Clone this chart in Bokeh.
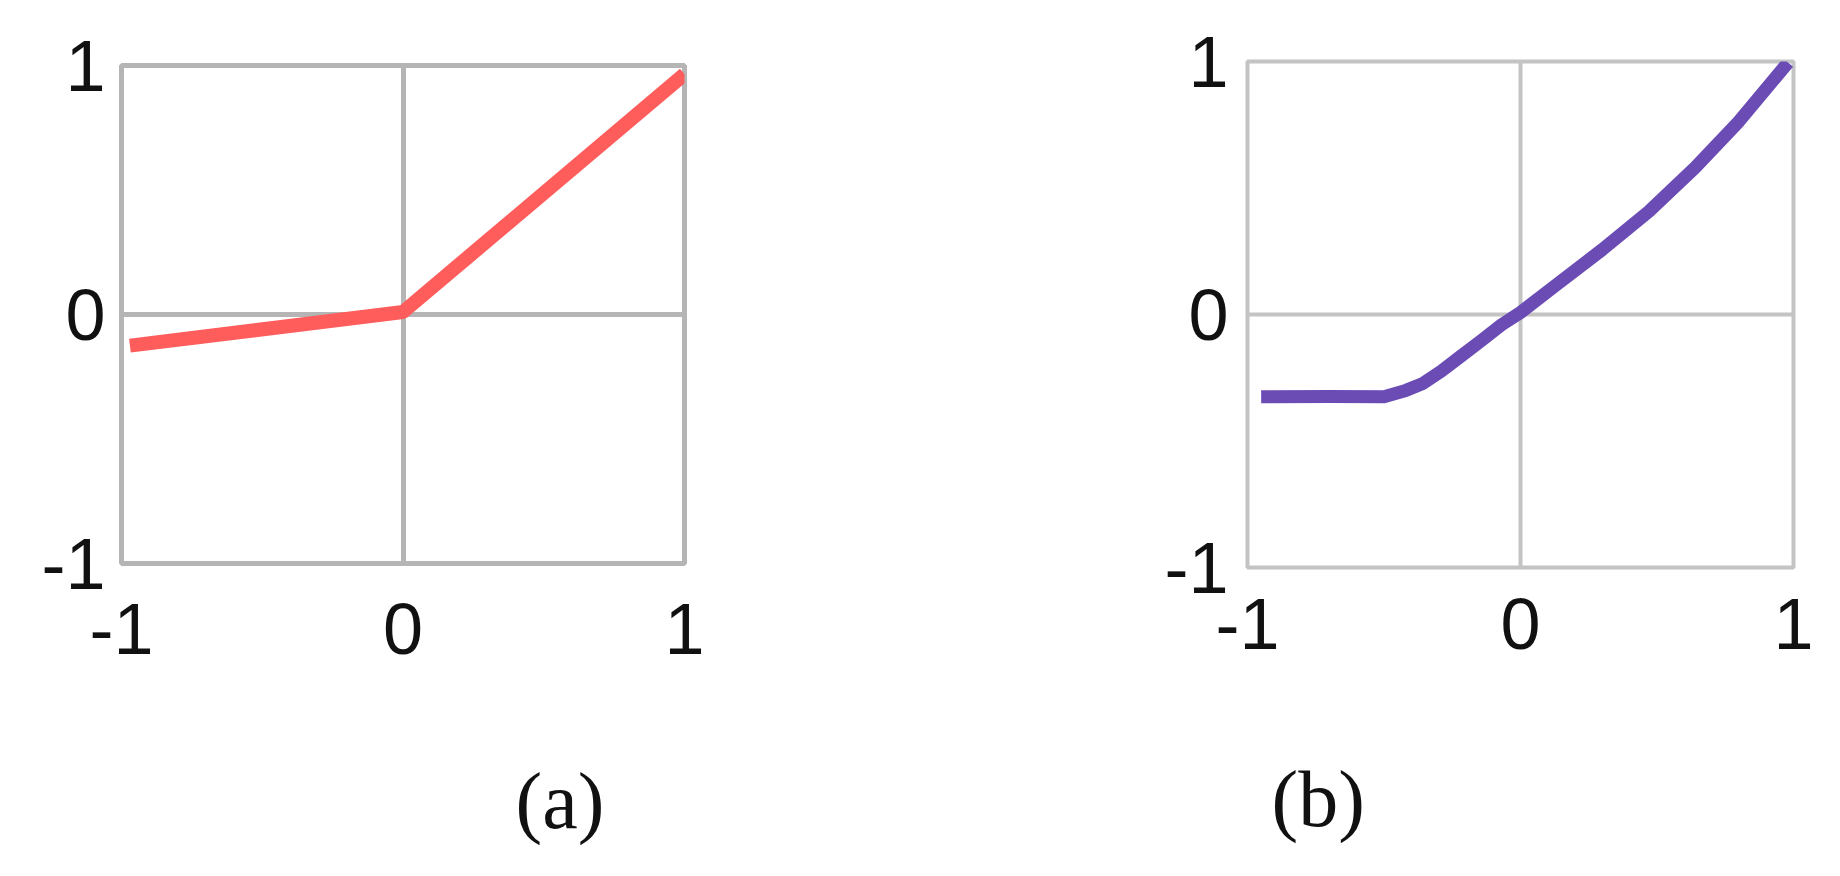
from bokeh.plotting import figure
from bokeh.layouts import row
from bokeh.models import FixedTicker, Range1d, Title
from bokeh.embed import file_html
from bokeh.resources import INLINE

# ---- data ----
ticks = [-1, 0, 1]
tick_labels = {-1: "-1", 0: "0", 1: "1"}

# (a) leaky-ReLU-like piecewise line
a_x = [-0.97, 0.0, 1.0]
a_y = [-0.125, 0.01, 0.965]

# (b) ELU-like smooth curve
b_x = [-0.95, -0.70, -0.50, -0.42, -0.36, -0.29, -0.22, -0.14, -0.07, 0.0,
       0.13, 0.30, 0.47, 0.64, 0.80, 0.98]
b_y = [-0.325, -0.324, -0.325, -0.30, -0.274, -0.224, -0.166, -0.10, -0.041, 0.008,
       0.116, 0.257, 0.407, 0.581, 0.763, 0.996]

captions = ["(a)", "(b)"]

TICK_FONT = "Liberation Sans"
CAP_FONT = "Liberation Serif"


def make_panel(xs, ys, color, lw, fw, fh, left, right, top, bottom, grid_color, grid_w,
               x_standoff, y_standoff, spacer, cap, cap_offset):
    p = figure(frame_width=fw, frame_height=fh, output_backend="svg", toolbar_location=None,
               title=None, x_range=Range1d(-1, 1), y_range=Range1d(-1, 1),
               min_border_left=left, min_border_right=right,
               min_border_top=top, min_border_bottom=bottom,
               background_fill_color="white", border_fill_color="white")
    for ax in (p.xaxis[0], p.yaxis[0]):
        ax.ticker = FixedTicker(ticks=ticks)
        ax.major_label_overrides = tick_labels
        ax.axis_line_color = None
        ax.major_tick_line_color = None
        ax.minor_tick_line_color = None
        ax.major_tick_in = 0
        ax.major_tick_out = 0
        ax.major_label_text_font = TICK_FONT
        ax.major_label_text_font_size = "72px"
        ax.major_label_text_color = "#111111"
    p.xaxis.major_label_standoff = x_standoff
    p.yaxis.major_label_standoff = y_standoff
    # blank axis label used only as vertical spacing before the caption
    p.xaxis.axis_label = " "
    p.xaxis.axis_label_text_font_size = "10px"
    p.xaxis.axis_label_standoff = spacer
    p.grid.grid_line_color = grid_color
    p.grid.grid_line_width = grid_w
    p.grid.grid_line_alpha = 1.0
    p.outline_line_color = grid_color
    p.outline_line_width = grid_w
    p.outline_line_alpha = 1.0
    p.line(xs, ys, line_color=color, line_width=lw, line_join="round")
    p.add_layout(Title(text=cap, align="left", offset=cap_offset, standoff=2,
                       text_font=CAP_FONT, text_font_size="80px", text_font_style="normal",
                       text_color="#111111"), "below")
    return p


pa = make_panel(a_x, a_y, "#FF5C5C", 14, 563, 498, 121, 236, 65, 300, "#b5b5b5", 5,
                40, 16, 83, captions[0], 394)
pb = make_panel(b_x, b_y, "#6A4CB4", 13, 546, 506, 327, 41, 65, 300, "#c4c4c4", 4,
                31, 19, 86, captions[1], 24)
pb.margin = (-4, 0, 0, 0)

layout = row(pa, pb)
open("out.html", "w").write(file_html(layout, INLINE))
